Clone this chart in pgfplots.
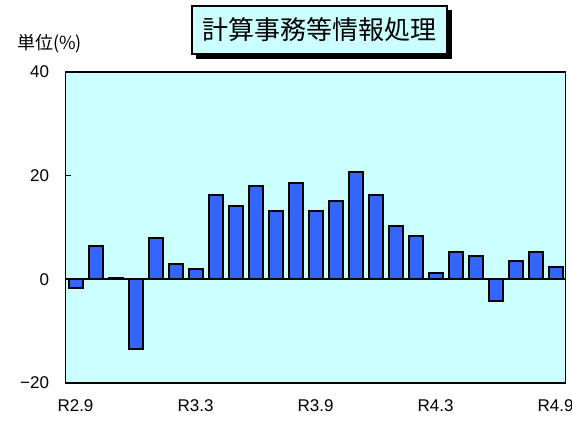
\documentclass[border=0pt]{standalone}
\usepackage{fontspec}
\setmainfont{Liberation Sans}
\newfontfamily\cjk{Noto Sans CJK JP}
\usepackage{pgfplots}
\pgfplotsset{compat=1.18}
\definecolor{bg}{HTML}{CCFFFF}
\definecolor{barblue}{HTML}{3366FF}
\begin{document}
\begin{tikzpicture}
\useasboundingbox (0pt,0pt) rectangle (572pt,421pt);
\begin{axis}[
  at={(65.5pt,38pt)}, anchor=south west,
  scale only axis, width=500pt, height=311pt,
  xmin=-0.5, xmax=24.5, ymin=-20, ymax=40,
  axis background/.style={fill=bg},
  axis line style={line width=1.8pt},
  xtick={0,6,12,18,24},
  xticklabels={R2.9,R3.3,R3.9,R4.3,R4.9},
  x tick style={draw=none},
  xticklabel style={font=\fontsize{17}{19}\selectfont, yshift=-8pt},
  ytick={-20,0,20,40},
  yticklabels={−20,0,20,40},
  ytick pos=left, tick align=inside,
  major tick length=5pt,
  y tick style={line width=0.8pt, black},
  yticklabel style={font=\fontsize{17}{19}\selectfont, xshift=-13pt},
  ybar, bar width=14pt,
  clip=false,
]
\addplot[fill=barblue, draw=black, line width=2pt] coordinates {
(0,-1.6) (1,6.5) (2,0.2) (3,-13.4) (4,8.0) (5,2.9) (6,1.9) (7,16.3)
(8,14.2) (9,18.1) (10,13.2) (11,18.5) (12,13.2) (13,15.2) (14,20.8)
(15,16.3) (16,10.3) (17,8.4) (18,1.3) (19,5.3) (20,4.5) (21,-4.1)
(22,3.5) (23,5.2) (24,2.4)};
\draw[black, line width=1.8pt] (axis cs:-0.5,0) -- (axis cs:24.5,0);
\end{axis}
\fill[black] (196pt,362pt) rectangle (452pt,411pt);
\node[draw=black, line width=1.5pt, fill=bg, minimum width=255pt, minimum height=48pt, inner sep=0pt, font=\cjk\fontsize{26}{29}\selectfont] at (319.5pt,391pt) {計算事務等情報処理};
\node[anchor=west, inner sep=0pt, font=\cjk\fontsize{18}{20}\selectfont] at (17pt,377pt) {単位(\%)};
\end{tikzpicture}
\end{document}
